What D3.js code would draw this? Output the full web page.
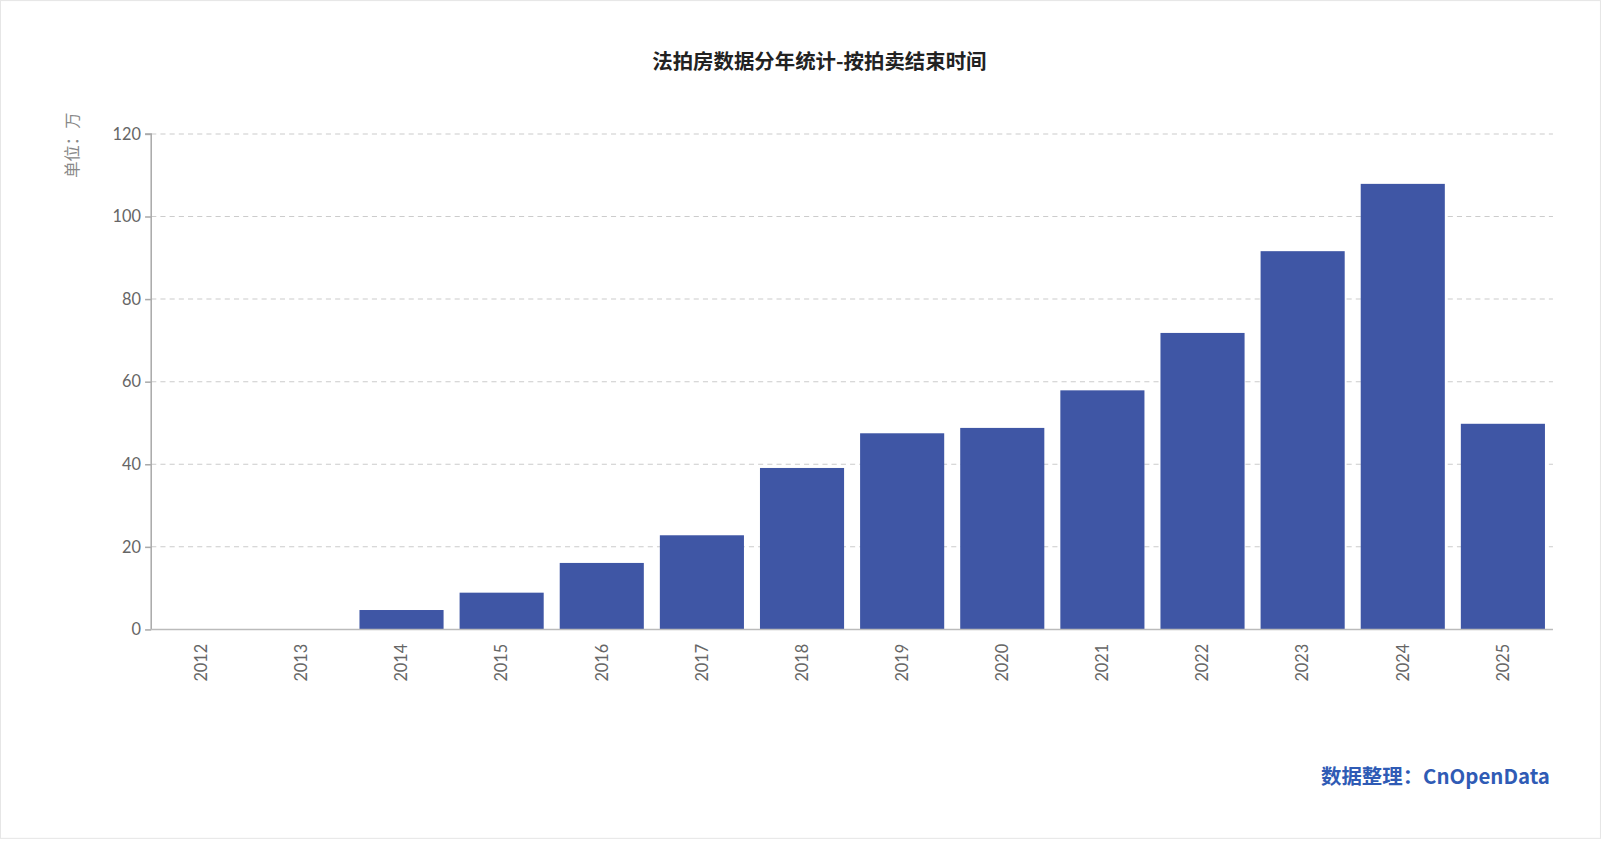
<!DOCTYPE html><html><head><meta charset="utf-8"><script src="https://cdn.jsdelivr.net/npm/d3@7"></script>
<style>body{margin:0;background:#fff;font-family:"Noto Sans CJK SC",sans-serif;overflow:hidden}#c{position:absolute;left:0;top:0}</style></head><body><div id="c"></div><script>
const years=["2012","2013","2014","2015","2016","2017","2018","2019","2020","2021","2022","2023","2024","2025"];
const values=[0,0,4.7,8.9,16.1,22.8,39.1,47.5,48.8,57.9,71.8,91.6,107.9,49.8];
const yTicks=[0,20,40,60,80,100,120];
const svg=d3.select("#c").append("svg").attr("width",1602).attr("height",842).attr("viewBox","0 0 1568 824");
svg.append("rect").attr("x",0.5).attr("y",0.5).attr("width",1566).attr("height",820).attr("fill","none").attr("stroke","#e6e6e6");
const L=148,R=1520,T=131,B=616;
const x=d3.scaleBand().domain(years).range([L,R]).paddingInner(0.16).paddingOuter(0.08);
const y=d3.scaleLinear().domain([0,120]).range([B,T]);
svg.append("g").selectAll("line").data(yTicks.slice(1)).join("line").attr("x1",L).attr("x2",R).attr("y1",d=>y(d)).attr("y2",d=>y(d)).attr("stroke","#ccc").attr("stroke-dasharray","5,4");
svg.append("g").selectAll("rect").data(values).join("rect").attr("x",(d,i)=>x(years[i])).attr("width",x.bandwidth()).attr("y",d=>y(d)).attr("height",d=>B-y(d)).attr("fill","#3f56a5");
const ya=svg.append("g").attr("transform",`translate(${L},0)`).call(d3.axisLeft(y).tickValues(yTicks).tickSize(6).tickPadding(4));
ya.selectAll("text").attr("fill","#666").style("font-size","16px").style("font-family","Lato,sans-serif");
ya.selectAll("line,path").attr("stroke","#aaa").attr("stroke-width",1.5);
ya.select("path").attr("d",`M-6,${T}H0V${B}`);
const xa=svg.append("g").attr("transform",`translate(0,${B})`).call(d3.axisBottom(x).tickSize(0).tickPadding(0));
xa.select("path").attr("stroke","#bbb").attr("stroke-width",1.5).attr("d",`M${L},0H${R}`);
xa.selectAll("text").attr("fill","#666").style("font-size","16px").style("font-family","Lato,sans-serif").attr("transform","rotate(-90)").attr("text-anchor","end").attr("x",-14).attr("y",0).attr("dy","0.35em");
svg.append("text").attr("x",802).attr("y",67).attr("text-anchor","middle").style("font-size","20px").style("font-weight","bold").attr("fill","#222").text("法拍房数据分年统计-按拍卖结束时间");
svg.append("text").attr("transform","translate(76,142) rotate(-90)").attr("text-anchor","middle").style("font-size","16px").attr("fill","#888").text("单位：万");
svg.append("text").attr("x",1517).attr("y",767).attr("text-anchor","end").style("font-size","20px").style("font-weight","bold").attr("fill","#2f5bb5").text("数据整理：CnOpenData");
</script></body></html>
